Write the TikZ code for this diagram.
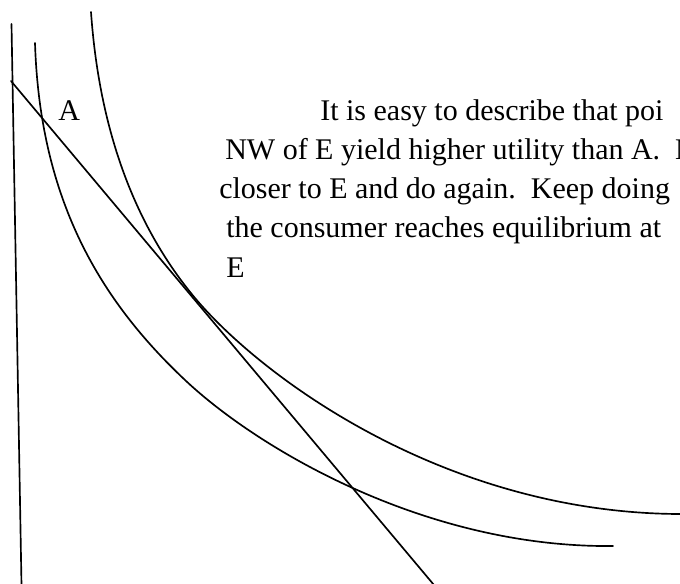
\documentclass[tikz,border=0pt]{standalone}
\usepackage{fontspec}
\setmainfont{Liberation Serif}
\begin{document}
\begin{tikzpicture}[x=0.75pt,y=-0.75pt,
  curve/.style={line width=1.25pt, line join=round, line cap=round},
  txt/.style={anchor=base west, inner sep=0pt, font=\fontsize{22.5}{27}\selectfont}]
\useasboundingbox (0,0) rectangle (680,583);
\clip (0,0) rectangle (680,583);
% axis
\coordinate (axTop) at (11.5,24);
\coordinate (axBot) at (21.5,585);
\draw[curve] (axTop) -- (axBot);
% budget line
\coordinate (bTop) at (11,81);
\coordinate (bBot) at (434,585);
\draw[curve] (bTop) -- (bBot);
% lower indifference curve (through A)
\coordinate (lTop) at (35,43);
\coordinate (lMid) at (185,380);
\coordinate (lEnd) at (613,546);
\draw[curve] (lTop) .. controls (40,200) and (100,300) .. (lMid)
  .. controls (257,448) and (425,548) .. (lEnd);
% higher indifference curve (tangent to the budget line at E)
\coordinate (uTop) at (91,12);
\coordinate (uE) at (195,298);
\coordinate (uEnd) at (682,514);
\draw[curve] (uTop) .. controls (100,140) and (140,232) .. (uE)
  .. controls (265,381) and (450,514) .. (uEnd);
% text
\node[txt] (lA) at (58,120) {A};
\node[txt] (t1) at (320,120) {It is easy to describe that poi};
\node[txt] (t2) at (225,159) {NW of E yield higher utility than A.\ \ M};
\node[txt] (t3) at (219,198) {closer to E and do again.\ \ Keep doing};
\node[txt] (t4) at (226,237.5) {the consumer reaches equilibrium at};
\node[txt] (t5) at (226,277) {E};
\end{tikzpicture}
\end{document}
